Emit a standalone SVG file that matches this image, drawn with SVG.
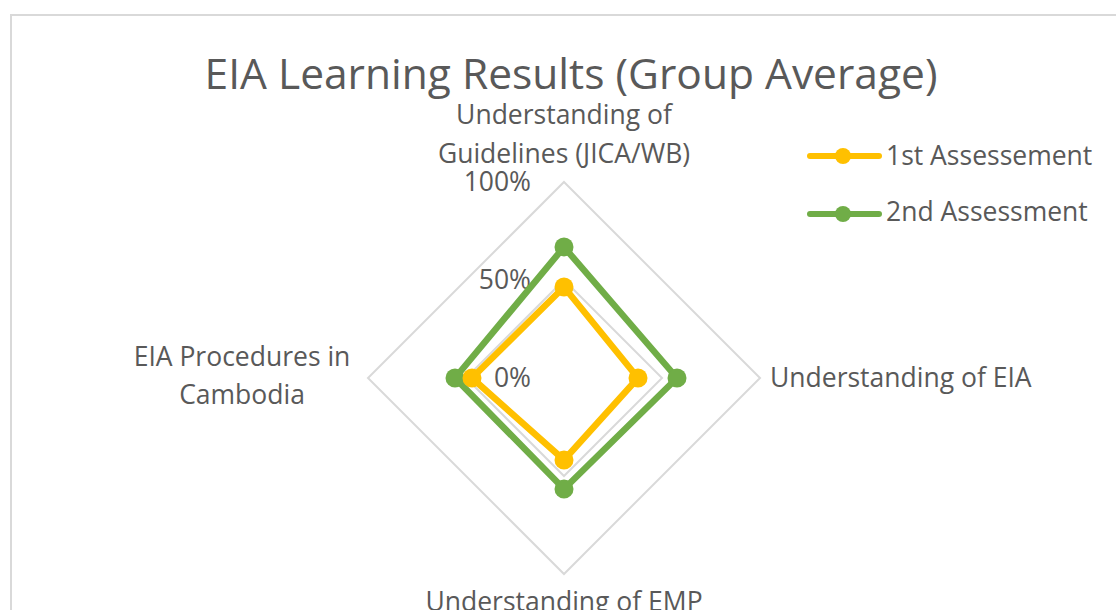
<svg xmlns="http://www.w3.org/2000/svg" width="1116" height="610" viewBox="0 0 1116 610">
<style>
text{font-family:"Open Sans","Noto Sans","Liberation Sans",sans-serif;fill:#595959}
.lbl{font-size:26.5px}
.grid{fill:none;stroke:#d9d9d9;stroke-width:2}
.s1{fill:none;stroke:#ffc000;stroke-width:6.5;stroke-linejoin:round}
.s2{fill:none;stroke:#70ad47;stroke-width:6.5;stroke-linejoin:round}
.m1{fill:#ffc000}
.m2{fill:#70ad47}
</style>
<rect x="0" y="0" width="1116" height="610" fill="#ffffff"/>
<g id="frame"><rect x="11" y="15" width="1120" height="610" fill="#ffffff" stroke="#d9d9d9" stroke-width="2"/></g>
<g id="title"><text x="571" y="89" text-anchor="middle" font-size="42.5">EIA Learning Results (Group Average)</text></g>
<g id="grid">
<polygon class="grid" points="564,182 760,378 564,574 368,378"/>
<polygon class="grid" points="564,280 662,378 564,476 466,378"/>
</g>
<g id="axis-labels">
<text class="lbl" x="531" y="191" text-anchor="end">100%</text>
<text class="lbl" x="531" y="289" text-anchor="end">50%</text>
<text class="lbl" x="531" y="387" text-anchor="end">0%</text>
</g>
<g id="cat-labels">
<text class="lbl" x="564" y="124" text-anchor="middle">Understanding of</text>
<text class="lbl" x="564" y="163" text-anchor="middle">Guidelines (JICA/WB)</text>
<text class="lbl" x="770" y="387">Understanding of EIA</text>
<text class="lbl" x="242" y="366" text-anchor="middle">EIA Procedures in</text>
<text class="lbl" x="242" y="404" text-anchor="middle">Cambodia</text>
<text class="lbl" x="564" y="611" text-anchor="middle">Understanding of EMP</text>
</g>
<g id="series2">
<polygon class="s2" points="564,247 677,378 564,489 455,378"/>
<circle class="m2" cx="564" cy="247" r="9.5"/><circle class="m2" cx="677" cy="378" r="9.5"/><circle class="m2" cx="564" cy="489" r="9.5"/><circle class="m2" cx="455" cy="378" r="9.5"/>
</g>
<g id="series1">
<polygon class="s1" points="564,287 638,378 564,460 472,378"/>
<circle class="m1" cx="564" cy="287" r="9.5"/><circle class="m1" cx="638" cy="378" r="9.5"/><circle class="m1" cx="564" cy="460" r="9.5"/><circle class="m1" cx="472" cy="378" r="9.5"/>
</g>
<g id="legend">
<line x1="810" y1="156" x2="879" y2="156" stroke="#ffc000" stroke-width="6" stroke-linecap="round"/>
<circle class="m1" cx="843" cy="156" r="8"/>
<text class="lbl" x="886" y="165">1st Assessement</text>
<line x1="810" y1="214" x2="879" y2="214" stroke="#70ad47" stroke-width="6" stroke-linecap="round"/>
<circle class="m2" cx="843" cy="214" r="8"/>
<text class="lbl" x="886" y="221">2nd Assessment</text>
</g>
</svg>
